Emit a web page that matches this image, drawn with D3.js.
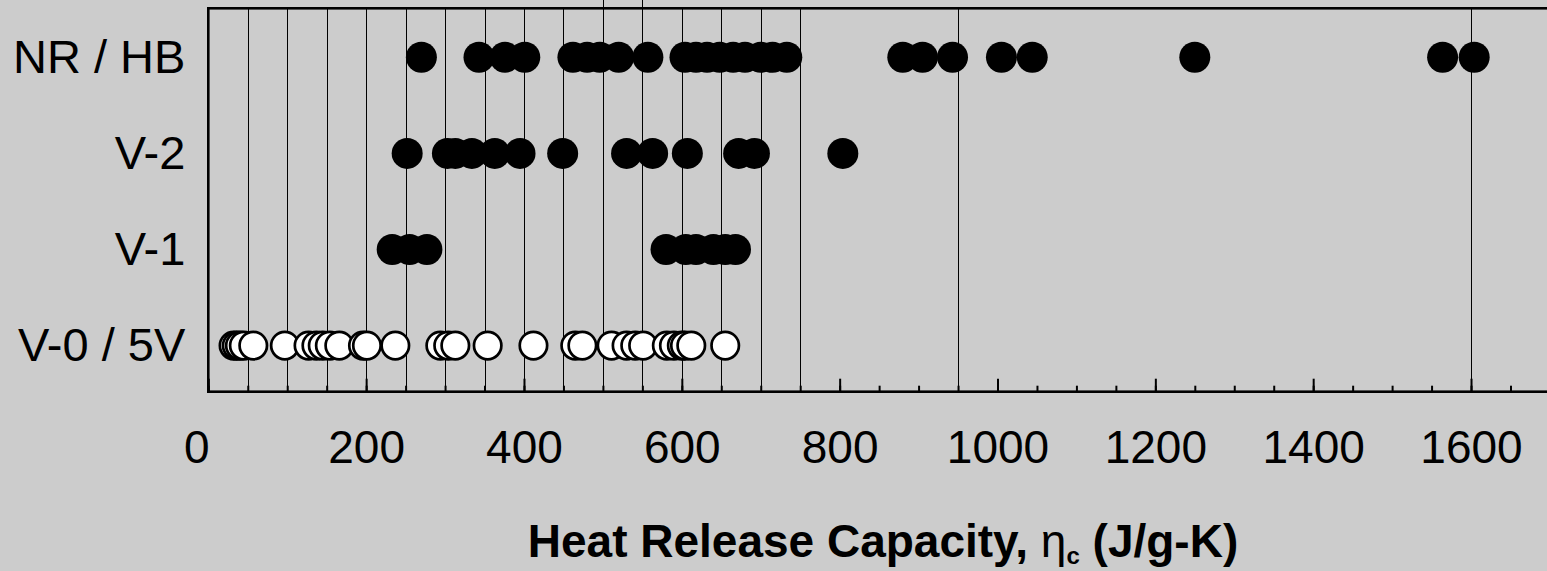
<!DOCTYPE html>
<html>
<head>
<meta charset="utf-8">
<script src="https://cdn.jsdelivr.net/npm/d3@7"></script>
<style>
  html, body { margin: 0; padding: 0; background: #cccccc; overflow: hidden; }
  svg { display: block; }
  text { font-family: "Liberation Sans", Arial, sans-serif; fill: #000; }
</style>
</head>
<body>
<svg id="chart" width="1547" height="571"></svg>
<script>
// Rating classes, bottom to top
const categories = ["V-0 / 5V", "V-1", "V-2", "NR / HB"];

// Heat release capacity (J/g-K) of each polymer, grouped by rating
const nrhb = [270, 343, 376, 401, 462, 480, 496, 520, 557, 604, 618, 632, 648, 665, 680, 700, 715, 733,
              880, 905, 943, 1005, 1044, 1250, 1564, 1604];
const v2 = [252, 303, 313, 334, 363, 395, 449, 530, 563, 607, 672, 692, 804];
const v1 = [233, 255, 277, 580, 605, 618, 640, 655, 668];
const v0 = [32, 36, 40, 45, 57, 97, 127, 137, 145, 154, 166, 196, 201, 237, 294, 304, 313, 354,
            412, 465, 474, 511, 530, 541, 551, 581, 590, 600, 604, 612, 655];

// Axis ticks and vertical reference lines
const labelTicks = [0, 200, 400, 600, 800, 1000, 1200, 1400, 1600];
const majorTicks = [0, 200, 400, 600, 800, 1000, 1200, 1400, 1600, 1800];
const minorTicks = d3.range(0, 1801, 50);
const refLines = [50, 100, 150, 200, 250, 300, 350, 400, 450, 500, 550, 600, 650, 700, 750, 950, 1600];
const raisedLines = [500, 550];

const svg = d3.select("#chart");
const plotLeft = 208.3, plotTop = 8.3, plotBottom = 391.7;

const x = d3.scaleLinear().domain([0, 1800]).range([plotLeft, plotLeft + 1800 * 0.7892]);
const y = d3.scaleLinear().domain([0.52, 4.51]).range([plotBottom, plotTop]);

// vertical reference lines
svg.append("g").selectAll("line").data(refLines).join("line")
  .attr("x1", d => Math.round(x(d)) + 0.5).attr("x2", d => Math.round(x(d)) + 0.5)
  .attr("y1", d => raisedLines.includes(d) ? 0 : plotTop)
  .attr("y2", plotBottom)
  .attr("stroke", "#000").attr("stroke-width", 1);

// plot frame (right side runs past the page edge)
svg.append("rect")
  .attr("x", plotLeft).attr("y", plotTop)
  .attr("width", x(1800) - plotLeft + 40).attr("height", plotBottom - plotTop)
  .attr("fill", "none").attr("stroke", "#000").attr("stroke-width", 2.6);

// inward tick marks on the bottom axis
const minorAxis = svg.append("g").attr("transform", `translate(0,${plotBottom})`)
  .call(d3.axisTop(x).tickValues(minorTicks).tickSize(6).tickFormat(""));
const majorAxis = svg.append("g").attr("transform", `translate(0,${plotBottom})`)
  .call(d3.axisTop(x).tickValues(majorTicks).tickSize(13).tickFormat(""));
[minorAxis, majorAxis].forEach(g => {
  g.select(".domain").remove();
  g.selectAll(".tick line").attr("stroke", "#000").attr("stroke-width", 2);
});

// tick labels
const labelAxis = svg.append("g").attr("transform", `translate(0,${plotBottom})`)
  .call(d3.axisBottom(x).tickValues(labelTicks).tickSize(0).tickFormat(d3.format("d")));
labelAxis.select(".domain").remove();
labelAxis.selectAll(".tick text")
  .attr("font-family", "Liberation Sans, Arial, sans-serif")
  .attr("font-size", 46).attr("fill", "#000")
  .attr("y", 71).attr("dy", 0)
  .attr("dx", d => d === 0 ? -12 : 0);

// category labels
const catAxis = svg.append("g").attr("transform", `translate(${plotLeft},0)`)
  .call(d3.axisLeft(y).tickValues([1, 2, 3, 4]).tickSize(0).tickPadding(23)
    .tickFormat(d => categories[d - 1]));
catAxis.select(".domain").remove();
catAxis.selectAll(".tick text")
  .attr("font-family", "Liberation Sans, Arial, sans-serif")
  .attr("font-size", 47).attr("fill", "#000")
  .attr("dy", 15);

// points
const rows = [
  { values: v0, row: 1, open: true },
  { values: v1, row: 2, open: false },
  { values: v2, row: 3, open: false },
  { values: nrhb, row: 4, open: false }
];
rows.forEach(s => {
  svg.append("g").selectAll("circle").data(s.values).join("circle")
    .attr("cx", d => x(d))
    .attr("cy", y(s.row))
    .attr("r", s.open ? 13.7 : 15.5)
    .attr("fill", s.open ? "#fff" : "#000")
    .attr("stroke", s.open ? "#000" : "none")
    .attr("stroke-width", s.open ? 2.7 : 0);
});

// x-axis title
const title = svg.append("text")
  .attr("x", 883).attr("y", 557)
  .attr("text-anchor", "middle")
  .attr("font-size", 46).attr("font-weight", "bold");
title.append("tspan").text("Heat Release Capacity, ");
title.append("tspan").attr("font-weight", "normal").text("η");
title.append("tspan").attr("font-size", 24).attr("dy", 7).text("c");
title.append("tspan").attr("dy", -7).text(" (J/g-K)");
</script>
</body>
</html>
